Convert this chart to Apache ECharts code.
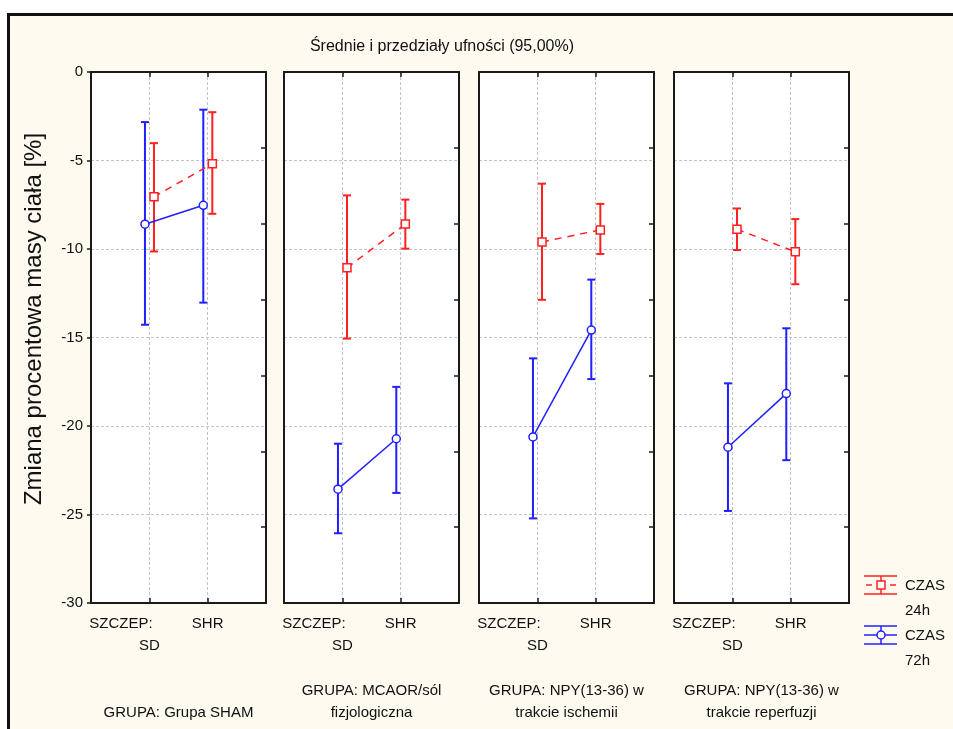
<!DOCTYPE html>
<html>
<head>
<meta charset="utf-8">
<script src="https://cdn.jsdelivr.net/npm/echarts@6/dist/echarts.min.js"></script>
<style>
  html, body { margin: 0; padding: 0; background: #fff; overflow: hidden; }
  #frame { position: absolute; left: 7px; top: 13px; width: 1000px; height: 800px;
           border: 3px solid #111; background: #fefaf0; }
  #chart { position: absolute; left: 0; top: 0; width: 953px; height: 729px; }
</style>
</head>
<body>
<div id="frame"></div>
<div id="chart"></div>
<script>
// x tick labels (category positions 1 and 2 on each panel)
const categories = ['SZCZEP: SD', 'SHR'];
const groups = [
  'GRUPA: Grupa SHAM',
  'GRUPA: MCAOR/sól\nfizjologiczna',
  'GRUPA: NPY(13-36) w\ntrakcie ischemii',
  'GRUPA: NPY(13-36) w\ntrakcie reperfuzji'
];
const seriesNames = ['CZAS 24h', 'CZAS 72h'];

// one [SD, SHR] pair per panel
const mean24 = [[-7.05, -5.18], [-11.06, -8.59], [-9.60, -8.92], [-8.88, -10.16]];
const low24  = [[-10.14, -8.01], [-15.06, -9.98], [-12.87, -10.28], [-10.06, -11.99]];
const high24 = [[-4.02, -2.27], [-6.97, -7.21], [-6.31, -7.45], [-7.71, -8.31]];
const mean72 = [[-8.60, -7.53], [-23.57, -20.72], [-20.62, -14.58], [-21.20, -18.17]];
const low72  = [[-14.28, -13.03], [-26.06, -23.78], [-25.22, -17.35], [-24.80, -21.93]];
const high72 = [[-2.83, -2.13], [-21.00, -17.79], [-16.18, -11.73], [-17.59, -14.48]];

const RED = '#ff2020';
const BLUE = '#2020ff';
const FONT = '"Liberation Sans", Arial, sans-serif';
const shift = { red: 0.08, blue: -0.075 };   // small side-by-side offset of the two series

const panelLeft = [91, 284, 479, 674];
const panelWidth = 175;

const chart = echarts.init(document.getElementById('chart'));

const grid = [], xAxis = [], yAxis = [], series = [];

const frameLine = { show: true, onZero: false, lineStyle: { color: '#1a1a1a', width: 2 } };
const innerTick = { show: true, inside: true, length: 5, lineStyle: { color: '#1a1a1a', width: 1.5 } };
const gridLine = { show: true, lineStyle: { color: '#c4c4c4', type: [3, 2], width: 1 } };

// error bar drawing (vertical whisker + caps)
function errorBar(color, lw) {
  return function (params, api) {
    const x = api.value(0);
    const lo = api.coord([x, api.value(1)]);
    const hi = api.coord([x, api.value(2)]);
    const cap = 4;
    const st = { stroke: color, lineWidth: lw };
    return {
      type: 'group',
      children: [
        { type: 'line', shape: { x1: lo[0], y1: lo[1], x2: hi[0], y2: hi[1] }, style: st },
        { type: 'line', shape: { x1: lo[0] - cap, y1: lo[1], x2: lo[0] + cap, y2: lo[1] }, style: st },
        { type: 'line', shape: { x1: hi[0] - cap, y1: hi[1], x2: hi[0] + cap, y2: hi[1] }, style: st }
      ]
    };
  };
}

groups.forEach((g, i) => {
  grid.push({
    left: panelLeft[i], width: panelWidth, top: 72, bottom: 123,
    show: true, backgroundColor: '#fff', borderWidth: 0
  });

  // bottom x axis with tick labels and group name
  xAxis.push({
    type: 'value', gridIndex: i, min: 0, max: 3, interval: 1, position: 'bottom',
    axisLine: frameLine, axisTick: innerTick, splitLine: gridLine,
    axisLabel: {
      margin: 10, fontFamily: FONT, fontSize: 15, color: '#111', lineHeight: 22,
      formatter: v => {
        if (v === 1) {
          const p = categories[0].split(' ');
          return '{a|' + p[0] + '}\n{b|' + p[1] + '}';
        }
        if (v === 2) return '{b|' + categories[1] + '}';
        return '';
      },
      rich: {
        a: { width: 120, align: 'left', fontFamily: FONT, fontSize: 15, color: '#111', lineHeight: 22 },
        b: { width: 120, align: 'center', fontFamily: FONT, fontSize: 15, color: '#111', lineHeight: 22 }
      }
    },
    name: g, nameLocation: 'middle', nameGap: 121,
    nameTextStyle: { fontFamily: FONT, fontSize: 15, color: '#111', lineHeight: 22, verticalAlign: 'bottom' }
  });
  // top x axis, ticks only
  xAxis.push({
    type: 'value', gridIndex: i, min: 0, max: 3, interval: 1, position: 'top',
    axisLine: frameLine, axisTick: innerTick,
    splitLine: { show: false }, axisLabel: { show: false }
  });

  // left y axis
  yAxis.push({
    type: 'value', gridIndex: i, min: -30, max: 0, interval: 5, position: 'left',
    axisLine: frameLine,
    axisTick: { show: i === 0, inside: false, length: 4, lineStyle: { color: '#1a1a1a', width: 1.5 } },
    splitLine: gridLine,
    axisLabel: { show: i === 0, margin: 8, fontFamily: FONT, fontSize: 15, color: '#111' }
  });
  // right y axis, inner ticks only
  yAxis.push({
    type: 'value', gridIndex: i, min: -30, max: 0, interval: 30 / 7, position: 'right',
    axisLine: frameLine, axisTick: innerTick,
    splitLine: { show: false }, axisLabel: { show: false }
  });

  const xa = i * 2, ya = i * 2;
  const redX = [1 + shift.red, 2 + shift.red];
  const blueX = [1 + shift.blue, 2 + shift.blue];

  series.push({
    type: 'custom', name: seriesNames[0], xAxisIndex: xa, yAxisIndex: ya, z: 2,
    renderItem: errorBar(RED, 2),
    data: redX.map((x, k) => [x, low24[i][k], high24[i][k]])
  });
  series.push({
    type: 'custom', name: seriesNames[1], xAxisIndex: xa, yAxisIndex: ya, z: 2,
    renderItem: errorBar(BLUE, 2),
    data: blueX.map((x, k) => [x, low72[i][k], high72[i][k]])
  });
  series.push({
    type: 'line', name: seriesNames[0], xAxisIndex: xa, yAxisIndex: ya, z: 3,
    symbol: 'rect', symbolSize: 8,
    lineStyle: { color: RED, width: 1.5, type: [7, 6] },
    itemStyle: { color: '#fff', borderColor: RED, borderWidth: 1.5 },
    data: redX.map((x, k) => [x, mean24[i][k]])
  });
  series.push({
    type: 'line', name: seriesNames[1], xAxisIndex: xa, yAxisIndex: ya, z: 3,
    symbol: 'circle', symbolSize: 8,
    lineStyle: { color: BLUE, width: 1.5 },
    itemStyle: { color: '#fff', borderColor: BLUE, borderWidth: 1.5 },
    data: blueX.map((x, k) => [x, mean72[i][k]])
  });
});

// legend drawn by hand: error-bar glyph + two-line label
function legendItem(y, color, dashed, marker) {
  const st = { stroke: color, lineWidth: 1.5 };
  const children = [
    { type: 'line', shape: { x1: 864, y1: y - 9, x2: 897, y2: y - 9 }, style: st },
    { type: 'line', shape: { x1: 864, y1: y + 9, x2: 897, y2: y + 9 }, style: st },
    { type: 'line', shape: { x1: 881, y1: y - 9, x2: 881, y2: y + 9 }, style: st }
  ];
  if (dashed) {
    children.push({ type: 'line', shape: { x1: 866, y1: y, x2: 872, y2: y }, style: st });
    children.push({ type: 'line', shape: { x1: 890, y1: y, x2: 896, y2: y }, style: st });
  } else {
    children.push({ type: 'line', shape: { x1: 864, y1: y, x2: 897, y2: y }, style: st });
  }
  if (marker === 'rect') {
    children.push({ type: 'rect', shape: { x: 877, y: y - 4, width: 8, height: 8 }, style: { fill: '#fff', stroke: color, lineWidth: 1.5 } });
  } else {
    children.push({ type: 'circle', shape: { cx: 881, cy: y, r: 4 }, style: { fill: '#fff', stroke: color, lineWidth: 1.5 } });
  }
  return children;
}

const legendTextStyle = { fontFamily: FONT, fontSize: 15, fill: '#111' };

chart.setOption({
  animation: false,
  backgroundColor: 'transparent',
  textStyle: { fontFamily: FONT },
  title: {
    text: 'Średnie i przedziały ufności (95,00%)',
    left: 437, top: 34, textAlign: 'center',
    textStyle: { fontFamily: FONT, fontSize: 16, fontWeight: 'normal', color: '#111' }
  },
  grid, xAxis, yAxis, series,
  graphic: [
    {
      type: 'text', x: 34, y: 319, rotation: Math.PI / 2,
      style: { text: 'Zmiana procentowa masy ciała [%]', fontFamily: FONT, fontSize: 24,
               fill: '#111', align: 'center', verticalAlign: 'middle' }
    },
    { type: 'group', children: legendItem(585, RED, true, 'rect') },
    { type: 'group', children: legendItem(635, BLUE, false, 'circle') },
    { type: 'text', x: 905, y: 586, style: Object.assign({ text: 'CZAS', verticalAlign: 'middle' }, legendTextStyle) },
    { type: 'text', x: 905, y: 611, style: Object.assign({ text: '24h', verticalAlign: 'middle' }, legendTextStyle) },
    { type: 'text', x: 905, y: 636, style: Object.assign({ text: 'CZAS', verticalAlign: 'middle' }, legendTextStyle) },
    { type: 'text', x: 905, y: 661, style: Object.assign({ text: '72h', verticalAlign: 'middle' }, legendTextStyle) }
  ]
});
</script>
</body>
</html>
